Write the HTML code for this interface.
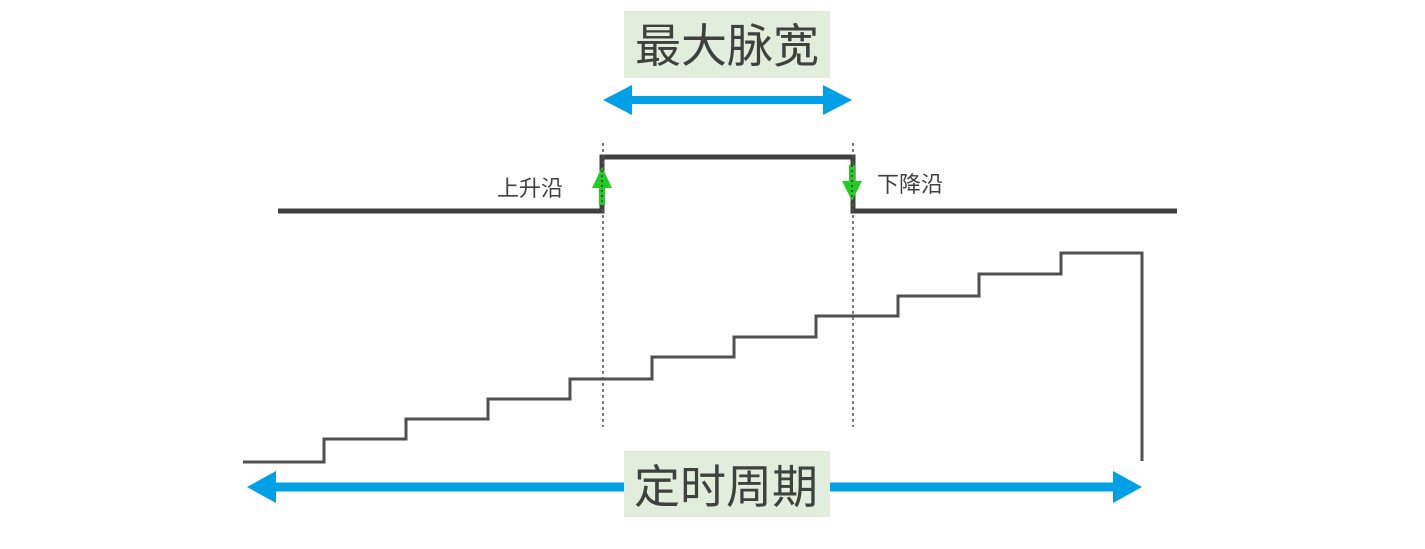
<!DOCTYPE html>
<html><head><meta charset="utf-8"><style>
html,body{margin:0;padding:0;background:#fff;}
svg{display:block;}
text{font-family:"Liberation Sans","Noto Sans CJK SC",sans-serif;fill:#404040;}
</style></head><body>
<svg width="1425" height="549" viewBox="0 0 1425 549" xmlns="http://www.w3.org/2000/svg">
<rect width="1425" height="549" fill="#fff"/>
<!-- top label -->
<rect x="624" y="11" width="206" height="67" fill="#e2eddb"/>
<text x="727" y="62" font-size="46" text-anchor="middle">最大脉宽</text>
<!-- top blue arrow -->
<line x1="625" y1="100" x2="830" y2="100" stroke="#00a0e6" stroke-width="8"/>
<polygon points="603,100 632,85 632,115" fill="#00a0e6"/>
<polygon points="852,100 823,85 823,115" fill="#00a0e6"/>
<!-- pulse -->
<polyline points="278,211 602,211 602,157 853,157 853,211 1177,211" fill="none" stroke="#404040" stroke-width="5"/>
<!-- dotted lines -->
<line x1="603" y1="143" x2="603" y2="427" stroke="#555" stroke-width="1.5" stroke-dasharray="3,3"/>
<line x1="853" y1="143" x2="853" y2="427" stroke="#555" stroke-width="1.5" stroke-dasharray="3,3"/>
<!-- green arrows -->
<rect x="599" y="185" width="6" height="20" fill="#22cc22"/>
<polygon points="602,167 592,188 612,188" fill="#22cc22"/>
<rect x="849" y="165" width="6" height="18" fill="#22cc22"/>
<polygon points="852,201 842,181 862,181" fill="#22cc22"/>
<line x1="602" y1="170" x2="602" y2="205" stroke="#333" stroke-width="1.5" stroke-dasharray="2,3"/>
<line x1="852" y1="165" x2="852" y2="200" stroke="#333" stroke-width="1.5" stroke-dasharray="2,3"/>
<!-- labels -->
<text x="497" y="196" font-size="22">上升沿</text>
<text x="877" y="192" font-size="22">下降沿</text>
<!-- staircase -->
<polyline points="243,462 324,462 324,439 406,439 406,419 488,419 488,399 570,399 570,379 652,379 652,357 734,357 734,337 816,337 816,316 898,316 898,296 979,296 979,274 1061,274 1061,253 1142,253 1142,461" fill="none" stroke="#505050" stroke-width="3"/>
<!-- bottom arrow -->
<line x1="268" y1="487" x2="624" y2="487" stroke="#00a0e6" stroke-width="9"/>
<line x1="830" y1="487" x2="1120" y2="487" stroke="#00a0e6" stroke-width="9"/>
<polygon points="247,487 276,471 276,503" fill="#00a0e6"/>
<polygon points="1142,487 1113,471 1113,503" fill="#00a0e6"/>
<rect x="624" y="451" width="206" height="66" fill="#e2eddb"/>
<text x="726" y="503" font-size="46" text-anchor="middle">定时周期</text>
</svg>
</body></html>
